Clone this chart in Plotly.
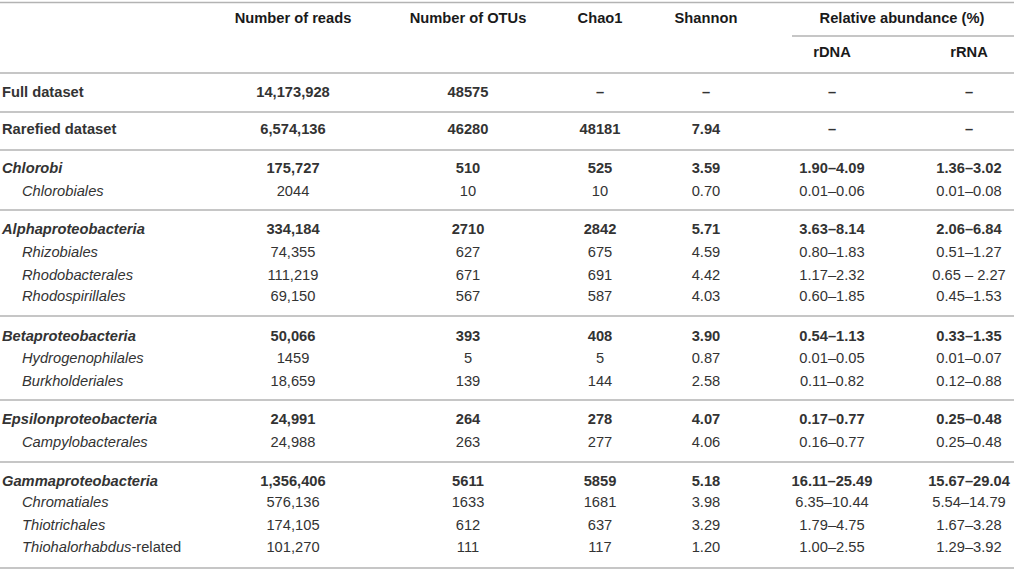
import plotly.graph_objects as go

# table contents
row_labels = ["Full dataset", "Rarefied dataset",
              "Chlorobi", "Chlorobiales",
              "Alphaproteobacteria", "Rhizobiales", "Rhodobacterales", "Rhodospirillales",
              "Betaproteobacteria", "Hydrogenophilales", "Burkholderiales",
              "Epsilonproteobacteria", "Campylobacterales",
              "Gammaproteobacteria", "Chromatiales", "Thiotrichales", "<i>Thiohalorhabdus</i>-related"]
row_kind = ["total", "total", "group", "sub", "group", "sub", "sub", "sub",
            "group", "sub", "sub", "group", "sub", "group", "sub", "sub", "sub"]
reads = ["14,173,928", "6,574,136", "175,727", "2044", "334,184", "74,355", "111,219", "69,150",
         "50,066", "1459", "18,659", "24,991", "24,988", "1,356,406", "576,136", "174,105", "101,270"]
otus = ["48575", "46280", "510", "10", "2710", "627", "671", "567",
        "393", "5", "139", "264", "263", "5611", "1633", "612", "111"]
chao1 = ["–", "48181", "525", "10", "2842", "675", "691", "587",
         "408", "5", "144", "278", "277", "5859", "1681", "637", "117"]
shannon = ["–", "7.94", "3.59", "0.70", "5.71", "4.59", "4.42", "4.03",
           "3.90", "0.87", "2.58", "4.07", "4.06", "5.18", "3.98", "3.29", "1.20"]
rdna = ["–", "–", "1.90–4.09", "0.01–0.06", "3.63–8.14", "0.80–1.83", "1.17–2.32", "0.60–1.85",
        "0.54–1.13", "0.01–0.05", "0.11–0.82", "0.17–0.77", "0.16–0.77",
        "16.11–25.49", "6.35–10.44", "1.79–4.75", "1.00–2.55"]
rrna = ["–", "–", "1.36–3.02", "0.01–0.08", "2.06–6.84", "0.51–1.27", "0.65 – 2.27", "0.45–1.53",
        "0.33–1.35", "0.01–0.07", "0.12–0.88", "0.25–0.48", "0.25–0.48",
        "15.67–29.04", "5.54–14.79", "1.67–3.28", "1.29–3.92"]
headers = ["Number of reads", "Number of OTUs", "Chao1", "Shannon"]
sub_headers = ["rDNA", "rRNA"]
group_header = "Relative abundance (%)"

# layout (pixel coordinates)
W, H = 1014, 570
row_y = [93, 130, 169, 192, 230, 253, 276, 297, 337, 359, 382, 420, 443, 482, 503, 526, 548]
col_x = [293, 468, 600, 706, 832, 969]
rules = [2.5, 73, 112, 150, 210, 316, 400, 462, 568]
FONT = "Liberation Sans, Arial, sans-serif"
FS = 14.7
DARK = "#1a1a1a"
TEXT = "#333333"


def styled(vals):
    out = []
    for v, k in zip(vals, row_kind):
        out.append(v if k == "sub" else "<b>" + v + "</b>")
    return out


fig = go.Figure()

# left column labels
lab = []
lab_x = []
for name, k in zip(row_labels, row_kind):
    if k == "total":
        lab.append("<b>" + name + "</b>")
        lab_x.append(2)
    elif k == "group":
        lab.append("<b><i>" + name + "</i></b>")
        lab_x.append(2)
    else:
        lab.append("<i>" + name + "</i>" if "<i>" not in name else name)
        lab_x.append(22)
fig.add_trace(go.Scatter(x=lab_x, y=row_y, mode="text", text=lab,
                         textposition="middle right",
                         textfont=dict(family=FONT, size=FS, color=TEXT),
                         hoverinfo="skip", showlegend=False))

for cx, vals in zip(col_x, [reads, otus, chao1, shannon, rdna, rrna]):
    fig.add_trace(go.Scatter(x=[cx] * len(vals), y=row_y, mode="text", text=styled(vals),
                             textposition="middle center",
                             textfont=dict(family=FONT, size=FS, color=TEXT),
                             hoverinfo="skip", showlegend=False))

# header texts
hx = col_x[:4] + [902] + col_x[4:]
hy = [19] * 5 + [53, 53]
ht = ["<b>" + t + "</b>" for t in headers + [group_header] + sub_headers]
fig.add_trace(go.Scatter(x=hx, y=hy, mode="text", text=ht, textposition="middle center",
                         textfont=dict(family=FONT, size=FS, color=DARK),
                         hoverinfo="skip", showlegend=False))

for ry in rules:
    fig.add_shape(type="line", x0=0, x1=W, y0=ry, y1=ry,
                  line=dict(color="#b3b3b3", width=1.5))
fig.add_shape(type="line", x0=792, x1=W, y0=36, y1=36, line=dict(color="#b3b3b3", width=1.5))

fig.update_layout(width=W, height=H, margin=dict(l=0, r=0, t=0, b=0),
                  paper_bgcolor="white", plot_bgcolor="white",
                  xaxis=dict(range=[0, W], visible=False, fixedrange=True),
                  yaxis=dict(range=[H, 0], visible=False, fixedrange=True))

# page body has a default 8px margin; drop it so the table fills the window
fig.write_html("out.html", config={"displayModeBar": False},
               post_script="document.body.style.margin='0';")
